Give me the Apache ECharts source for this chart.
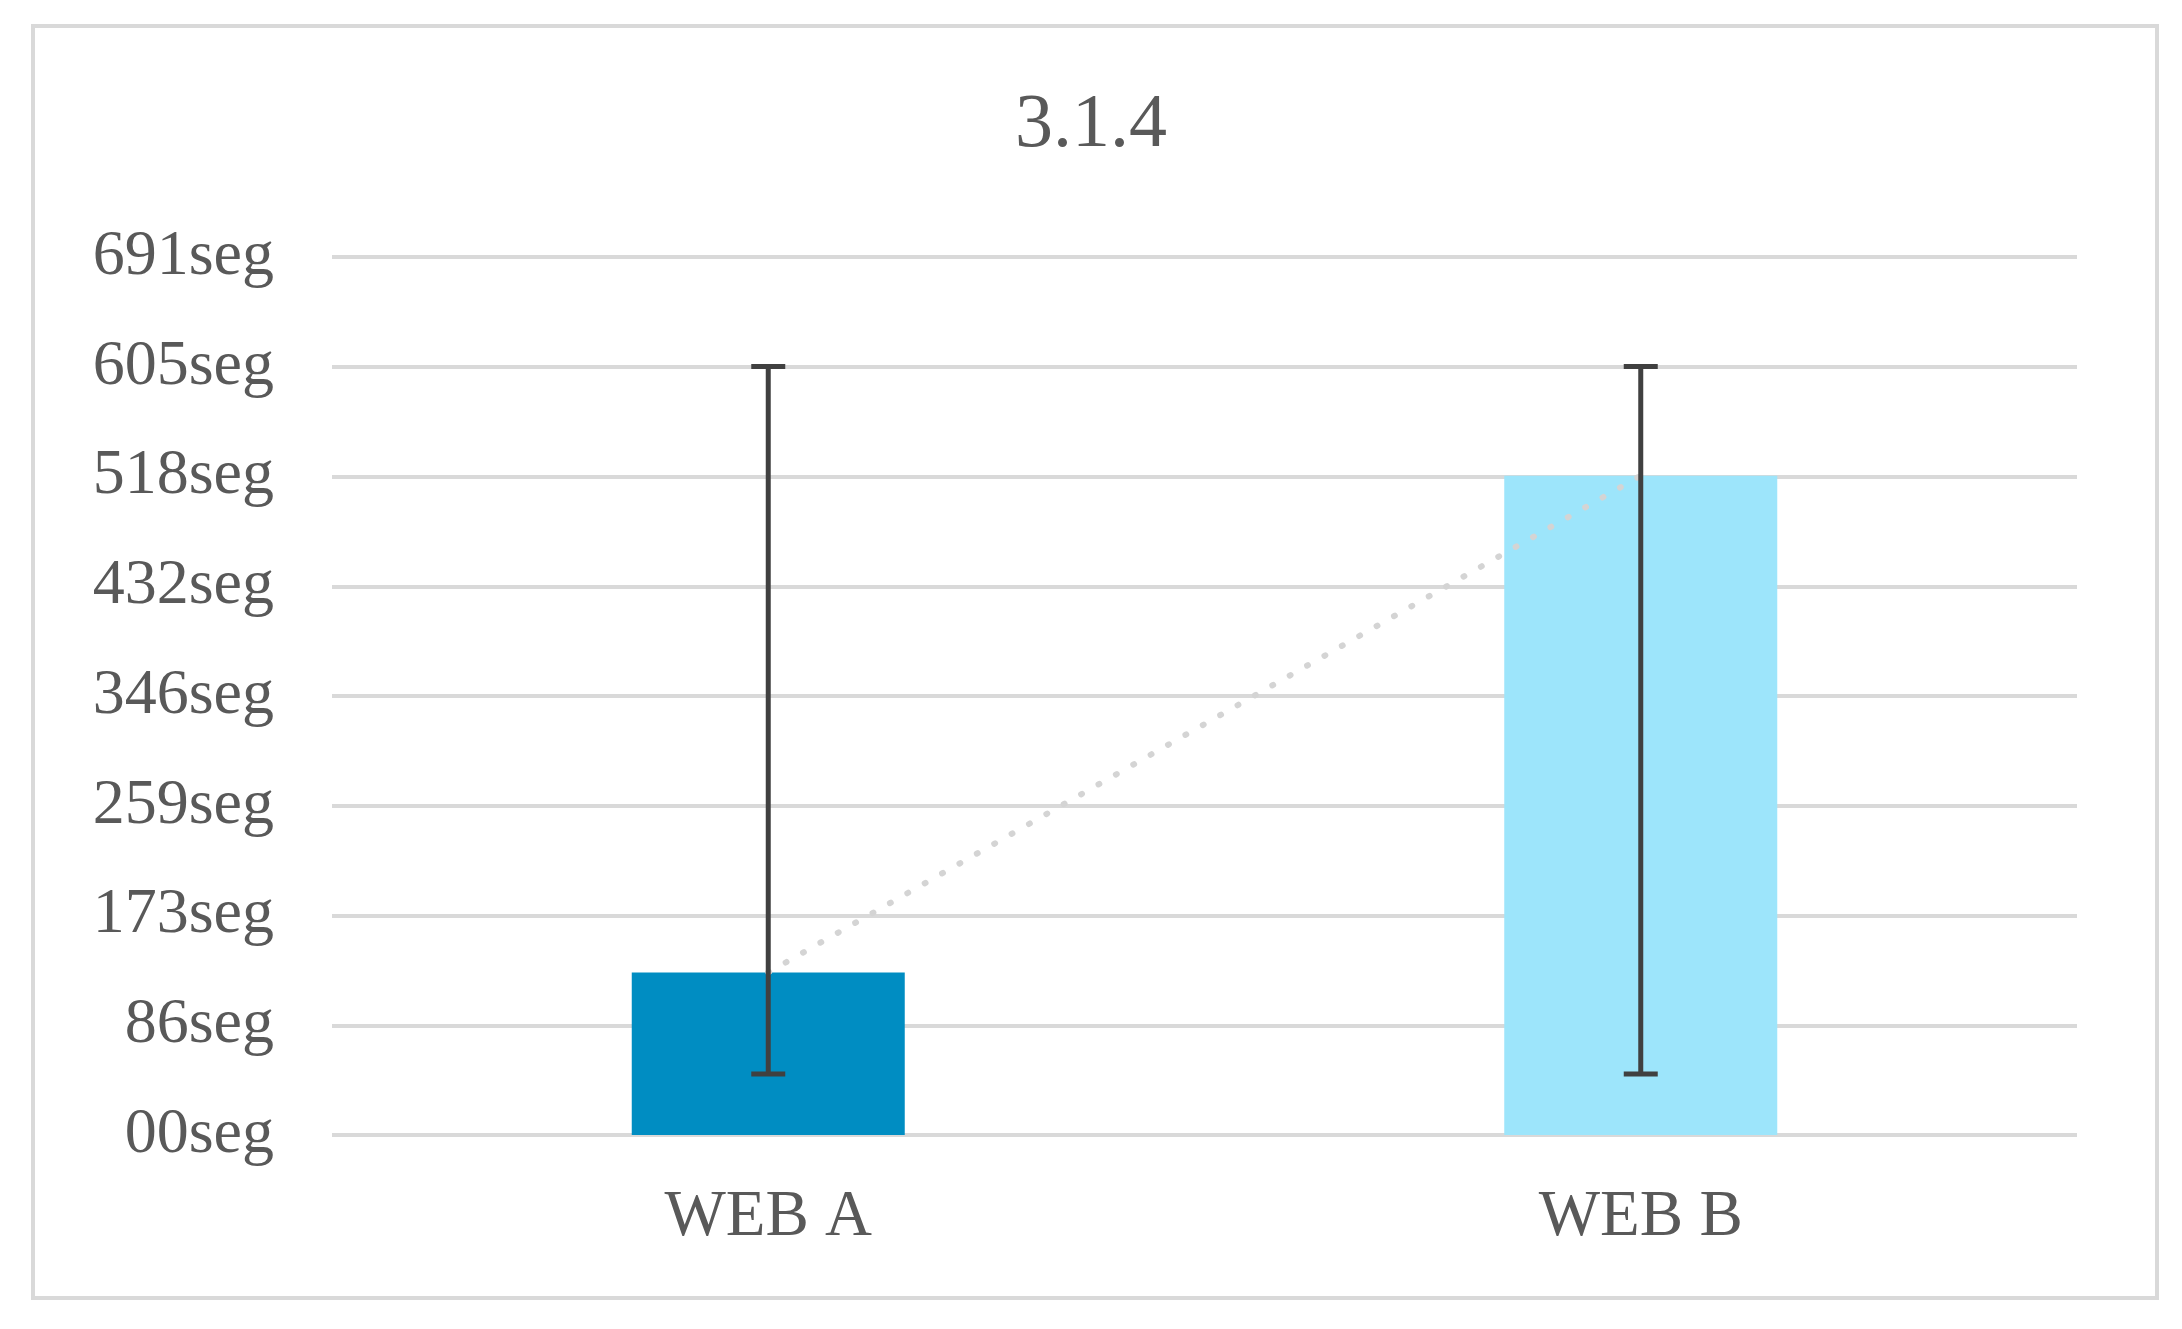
<!DOCTYPE html>
<html>
<head>
<meta charset="utf-8">
<script src="https://cdn.jsdelivr.net/npm/echarts@6/dist/echarts.min.js"></script>
<style>
  html, body { margin: 0; padding: 0; background: #fff; }
  #chart { width: 2182px; height: 1329px; }
</style>
</head>
<body>
<div id="chart"></div>
<script>
const titleText = '3.1.4';
const categories = ['WEB A', 'WEB B'];
const barValues = [128, 519];
const errLow = [48, 48];
const errHigh = [605, 605];
const yTickLabels = ['00seg', '86seg', '173seg', '259seg', '346seg', '432seg', '518seg', '605seg', '691seg'];
const barColors = ['#008dc2', '#9de5fb'];

const fontFamily = '"Liberation Serif", "DejaVu Serif", serif';
const textColor = '#595959';

const chart = echarts.init(document.getElementById('chart'));

const option = {
  animation: false,
  backgroundColor: '#fff',
  title: {
    text: titleText,
    left: 'center',
    top: 88,
    padding: 0,
    textStyle: { fontFamily, fontSize: 76, fontWeight: 'normal', color: textColor }
  },
  graphic: [{
    type: 'rect',
    shape: { x: 33, y: 26, width: 2124, height: 1272 },
    style: { fill: 'none', stroke: '#d9d9d9', lineWidth: 4 },
    silent: true
  }],
  grid: { left: 332, right: 105, top: 257, bottom: 194 },
  xAxis: {
    type: 'category',
    data: categories,
    axisLine: { show: false },
    axisTick: { show: false },
    axisLabel: { fontFamily, fontSize: 65, color: textColor, margin: 50 }
  },
  yAxis: {
    type: 'value',
    min: 0,
    max: 691.2,
    interval: 86.4,
    axisLine: { show: false },
    axisTick: { show: false },
    splitLine: { lineStyle: { color: '#d9d9d9', width: 4 } },
    axisLabel: {
      fontFamily, fontSize: 64, color: textColor, margin: 58,
      formatter: (v, i) => yTickLabels[i]
    }
  },
  series: [
    {
      type: 'bar',
      barWidth: 273,
      data: barValues.map((v, i) => ({ value: v, itemStyle: { color: barColors[i] } })),
      z: 2
    },
    {
      type: 'line',
      data: barValues,
      symbol: 'none',
      lineStyle: { color: '#d4d4d4', width: 6, type: [1, 19], cap: 'round' },
      z: 3
    },
    {
      type: 'custom',
      data: categories.map((c, i) => [i, errLow[i], errHigh[i]]),
      z: 4,
      renderItem: (params, api) => {
        const x = api.value(0);
        const lo = api.coord([x, api.value(1)]);
        const hi = api.coord([x, api.value(2)]);
        const half = 17;
        const style = { stroke: '#404040', lineWidth: 5 };
        return {
          type: 'group',
          children: [
            { type: 'line', shape: { x1: lo[0], y1: lo[1], x2: hi[0], y2: hi[1] }, style },
            { type: 'line', shape: { x1: lo[0] - half, y1: lo[1], x2: lo[0] + half, y2: lo[1] }, style },
            { type: 'line', shape: { x1: hi[0] - half, y1: hi[1], x2: hi[0] + half, y2: hi[1] }, style }
          ]
        };
      }
    }
  ]
};

chart.setOption(option);
window.addEventListener('resize', () => chart.resize());
</script>
</body>
</html>
